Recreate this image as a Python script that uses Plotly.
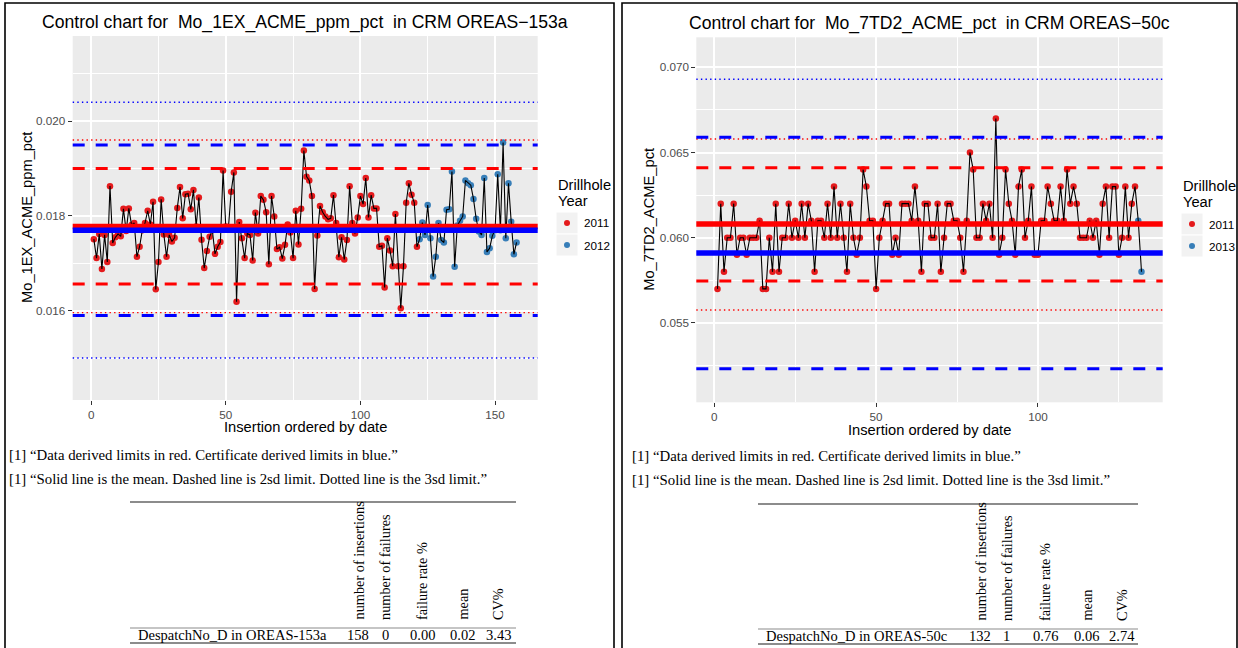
import plotly.graph_objects as go

W, H = 1238, 648

# ---------------- data ----------------
# Mo_1EX_ACME_ppm_pct assays of CRM OREAS-153a, in insertion order
left_mo = [
    0.01751, 0.01711, 0.01762, 0.01688, 0.01760, 0.01703, 0.01863, 0.01743, 0.01755, 0.01762,
    0.01757, 0.01815, 0.01768, 0.01816, 0.01781, 0.01785, 0.01714, 0.01735, 0.01770, 0.01785,
    0.01811, 0.01782, 0.01830, 0.01645, 0.01703, 0.01835, 0.01761, 0.01714, 0.01760, 0.01746,
    0.01754, 0.01817, 0.01861, 0.01795, 0.01846, 0.01847, 0.01814, 0.01855, 0.01778, 0.01839,
    0.01750, 0.01690, 0.01726, 0.01756, 0.01770, 0.01720, 0.01735, 0.01745, 0.01896, 0.01778,
    0.01776, 0.01851, 0.01892, 0.01619, 0.01787, 0.01753, 0.01711, 0.01763, 0.01760, 0.01706,
    0.01807, 0.01763, 0.01842, 0.01834, 0.01808, 0.01698, 0.01842, 0.01799, 0.01730, 0.01734,
    0.01710, 0.01739, 0.01782, 0.01765, 0.01711, 0.01811, 0.01740, 0.01815, 0.01938, 0.01883,
    0.01875, 0.01842, 0.01646, 0.01759, 0.01821, 0.01808, 0.01799, 0.01793, 0.01795, 0.01844,
    0.01785, 0.01713, 0.01755, 0.01708, 0.01749, 0.01863, 0.01785, 0.01763, 0.01797, 0.01842,
    0.01825, 0.01880, 0.01797, 0.01844, 0.01816, 0.01816, 0.01735, 0.01737, 0.01649, 0.01753,
    0.01727, 0.01694, 0.01804, 0.01694, 0.01605, 0.01694, 0.01828, 0.01869, 0.01845, 0.01828,
    0.01735, 0.01751, 0.01786, 0.01760, 0.01823, 0.01753, 0.01672, 0.01714, 0.01785, 0.01749,
    0.01744, 0.01813, 0.01814, 0.01894, 0.01693, 0.01780, 0.01790, 0.01799, 0.01875, 0.01869,
    0.01865, 0.01836, 0.01794, 0.01767, 0.01760, 0.01880, 0.01724, 0.01732, 0.01758, 0.01770,
    0.01888, 0.01770, 0.01955, 0.01753, 0.01869, 0.01788, 0.01719, 0.01744,
]
left_year_runs = [("2011", 121), ("2012", 37)]

# Mo_7TD2_ACME_pct assays of CRM OREAS-50c, in insertion order
right_mo = [
    0.057, 0.062, 0.058, 0.060, 0.060, 0.062, 0.059, 0.060, 0.060, 0.059,
    0.060, 0.060, 0.060, 0.061, 0.057, 0.057, 0.060, 0.058, 0.062, 0.058,
    0.060, 0.060, 0.062, 0.060, 0.061, 0.060, 0.062, 0.060, 0.062, 0.061,
    0.058, 0.061, 0.061, 0.060, 0.062, 0.060, 0.063, 0.060, 0.062, 0.060,
    0.058, 0.062, 0.060, 0.059, 0.060, 0.064, 0.063, 0.061, 0.061, 0.057,
    0.060, 0.061, 0.062, 0.062, 0.059, 0.060, 0.059, 0.062, 0.062, 0.062,
    0.061, 0.063, 0.061, 0.058, 0.062, 0.062, 0.060, 0.060, 0.062, 0.058,
    0.060, 0.062, 0.062, 0.061, 0.061, 0.060, 0.058, 0.061, 0.065, 0.064,
    0.060, 0.060, 0.062, 0.061, 0.062, 0.060, 0.067, 0.059, 0.060, 0.064,
    0.062, 0.061, 0.059, 0.063, 0.064, 0.060, 0.061, 0.063, 0.059, 0.059,
    0.061, 0.061, 0.063, 0.062, 0.061, 0.061, 0.063, 0.061, 0.064, 0.062,
    0.063, 0.062, 0.060, 0.060, 0.060, 0.061, 0.060, 0.061, 0.059, 0.062,
    0.063, 0.060, 0.063, 0.063, 0.059, 0.060, 0.063, 0.060, 0.062, 0.063,
    0.061, 0.058,
]
right_year_runs = [("2011", 130), ("2013", 2)]

# control limits: (mean, 2sd low, 2sd high, 3sd low, 3sd high)
left_data_limits = [0.01778, 0.016564, 0.01900, 0.015958, 0.019605]
left_cert_limits = [0.01770, 0.01590, 0.01950, 0.01500, 0.02040]
right_data_limits = [0.06080, 0.05746, 0.06410, 0.05576, 0.06579]
right_cert_limits = [0.05911, 0.05232, 0.06590, 0.04892, 0.06930]

left_title = "Control chart for \u00a0Mo_1EX_ACME_ppm_pct \u00a0in CRM OREAS\u2212153a"
right_title = "Control chart for \u00a0Mo_7TD2_ACME_pct \u00a0in CRM OREAS\u221250c"
left_ylabel = "Mo_1EX_ACME_ppm_pct"
right_ylabel = "Mo_7TD2_ACME_pct"
xlabel = "Insertion ordered by date"

left_yticks = [0.016, 0.018, 0.020]
right_yticks = [0.055, 0.060, 0.065, 0.070]
left_xticks = [0, 50, 100, 150]
right_xticks = [0, 50, 100]

note_lines = [
    "[1] \u201cData derived limits in red. Certificate derived limits in blue.\u201d",
    "[1] \u201cSolid line is the mean. Dashed line is 2sd limit. Dotted line is the 3sd limit.\u201d",
]
table_headers = ["number of insertions", "number of failures", "failure rate %", "mean", "CV%"]
left_row_label = "DespatchNo_D in OREAS-153a"
left_row = ["158", "0", "0.00", "0.02", "3.43"]
right_row_label = "DespatchNo_D in OREAS-50c"
right_row = ["132", "1", "0.76", "0.06", "2.74"]

YEAR_COLORS = {"2011": "#E41A1C", "2012": "#377EB8", "2013": "#377EB8"}

SANS = "Liberation Sans"
SERIF = "Liberation Serif"


def fx(px):
    return px / W


def fy(py):
    return 1 - py / H


def expand_years(runs):
    out = []
    for yr, n in runs:
        out.extend([yr] * n)
    return out


fig = go.Figure()
shapes = []
annotations = []


def add_chart(values, year_runs, data_lim, cert_lim, xa, ya):
    xs = list(range(1, len(values) + 1))
    years = expand_years(year_runs)
    for yr, _ in year_runs:
        sx = [x for x, y in zip(xs, years) if y == yr]
        sy = [v for v, y in zip(values, years) if y == yr]
        fig.add_trace(go.Scatter(
            x=sx, y=sy, mode="markers", xaxis=xa, yaxis=ya,
            marker=dict(color=YEAR_COLORS[yr], size=6.5, line=dict(width=0)),
            showlegend=False, hoverinfo="skip"))
    fig.add_trace(go.Scatter(
        x=xs, y=values, mode="lines", xaxis=xa, yaxis=ya,
        line=dict(color="black", width=1.1),
        showlegend=False, hoverinfo="skip"))
    xref = xa + " domain"
    yref = ya
    for lim, col in ((data_lim, "#FF0000"), (cert_lim, "#0000FF")):
        styles = [
            (lim[0], dict(color=col, width=5.5)),
            (lim[1], dict(color=col, width=3, dash="12px,11px")),
            (lim[2], dict(color=col, width=3, dash="12px,11px")),
            (lim[3], dict(color=col, width=1.4, dash="1.4px,3.2px")),
            (lim[4], dict(color=col, width=1.4, dash="1.4px,3.2px")),
        ]
        for yv, ln in styles:
            shapes.append(dict(type="line", xref=xref, yref=yref, x0=0, x1=1,
                               y0=yv, y1=yv, line=ln, layer="above"))


add_chart(left_mo, left_year_runs, left_data_limits, left_cert_limits, "x", "y")
add_chart(right_mo, right_year_runs, right_data_limits, right_cert_limits, "x2", "y2")


def xaxis_cfg(dom, rng, ticks, anchor):
    return dict(domain=[fx(dom[0]), fx(dom[1])], range=rng, anchor=anchor,
                tickmode="array", tickvals=ticks, ticktext=[str(t) for t in ticks],
                ticks="outside", ticklen=4, tickwidth=1.4, tickcolor="#333333",
                tickfont=dict(family=SANS, size=11.7, color="#4D4D4D"),
                showgrid=True, gridcolor="white", gridwidth=1.7,
                minor=dict(tickvals=[25, 75, 125], showgrid=True,
                           gridcolor="white", gridwidth=0.8, ticks=""),
                zeroline=False, showline=False, fixedrange=True)


def yaxis_cfg(dom, rng, ticks, minor, anchor):
    return dict(domain=[fy(dom[1]), fy(dom[0])], range=rng, anchor=anchor,
                tickmode="array", tickvals=ticks, ticktext=[f"{t:.3f}" for t in ticks],
                ticks="outside", ticklen=4, tickwidth=1.4, tickcolor="#333333",
                tickfont=dict(family=SANS, size=11.7, color="#4D4D4D"),
                showgrid=True, gridcolor="white", gridwidth=1.7,
                minor=dict(tickvals=minor, showgrid=True,
                           gridcolor="white", gridwidth=0.8, ticks=""),
                zeroline=False, showline=False, fixedrange=True)


left_panel = (72.7, 537.7, 36, 400)
right_panel = (696.3, 1162.7, 37.3, 402.3)


def text(x, y, s, size, family=SANS, color="black", xanchor="center",
         yanchor="middle", angle=0):
    annotations.append(dict(x=fx(x), y=fy(y), xref="paper", yref="paper", text=s,
                            showarrow=False, xanchor=xanchor, yanchor=yanchor,
                            textangle=angle, font=dict(family=family, size=size, color=color)))


def chart_decor(panel, title, ylabel, title_y, xlab_y, ylab_x, leg_x, leg_top, years):
    cx = (panel[0] + panel[1]) / 2
    cy = (panel[2] + panel[3]) / 2
    text(cx, title_y, title, 17.6)
    text(cx, xlab_y, xlabel, 14.7)
    text(ylab_x, cy, ylabel, 14.7, angle=-90)
    # legend
    text(leg_x, leg_top, "Drillhole", 14.7, xanchor="left")
    text(leg_x, leg_top + 16, "Year", 14.7, xanchor="left")
    key = 22
    ky = leg_top + 27
    for i, yr in enumerate(years):
        y0 = ky + i * key
        shapes.append(dict(type="rect", xref="paper", yref="paper",
                           x0=fx(leg_x), x1=fx(leg_x + key), y0=fy(y0 + key), y1=fy(y0),
                           fillcolor="#F2F2F2", line=dict(color="white", width=1)))
        cxk, cyk = leg_x + key / 2, y0 + key / 2
        shapes.append(dict(type="circle", xref="paper", yref="paper",
                           x0=fx(cxk - 3), x1=fx(cxk + 3), y0=fy(cyk + 3), y1=fy(cyk - 3),
                           fillcolor=YEAR_COLORS[yr], line=dict(width=0)))
        text(leg_x + key + 4, cyk, yr, 11.7, xanchor="left")


chart_decor(left_panel, left_title, left_ylabel, 22.5, 427, 27, 556, 185,
            [yr for yr, _ in left_year_runs])
chart_decor(right_panel, right_title, right_ylabel, 24, 430, 649, 1181, 186,
            [yr for yr, _ in right_year_runs])


def report(x_text, line_ys, tbl_x0, tbl_x1, rules, row_y, label_x, cols, label, row):
    for s, y in zip(note_lines, line_ys):
        text(x_text, y, s, 14.8, family=SERIF, xanchor="left")
    for y, w in rules:
        shapes.append(dict(type="line", xref="paper", yref="paper",
                           x0=fx(tbl_x0), x1=fx(tbl_x1), y0=fy(y), y1=fy(y),
                           line=dict(color="#8C8C8C", width=w)))
    header_bottom = rules[1][0] - 6
    for c, h, v in zip(cols, table_headers, row):
        text(c, header_bottom, h, 14.3, family=SERIF, yanchor="bottom", angle=-90)
        text(c, row_y, v, 14.5, family=SERIF)
    text(label_x, row_y, label, 14.5, family=SERIF, xanchor="left")


report(7, [455, 479], 130, 516, [(502, 1.8), (628, 1.2), (643, 1.8)], 635, 136,
       [358, 385, 422, 462, 498], left_row_label, left_row)
report(630, [456, 480], 758, 1138, [(504, 1.8), (629, 1.2), (644, 1.8)], 636, 764,
       [980, 1007, 1045, 1086, 1122], right_row_label, right_row)

# page frames
for x0, x1 in ((5, 614), (622, 1237)):
    shapes.append(dict(type="rect", xref="paper", yref="paper",
                       x0=fx(x0), x1=fx(x1), y0=fy(H + 20), y1=fy(3),
                       line=dict(color="black", width=1.6), fillcolor="rgba(0,0,0,0)"))

fig.update_layout(
    width=W, height=H, margin=dict(l=0, r=0, t=0, b=0),
    paper_bgcolor="white", plot_bgcolor="#EBEBEB",
    showlegend=False,
    xaxis=xaxis_cfg(left_panel[:2], [-6.85, 165.85], left_xticks, "y"),
    yaxis=yaxis_cfg(left_panel[2:], [0.014114, 0.0218], left_yticks,
                    [0.015, 0.017, 0.019, 0.021], "x"),
    xaxis2=xaxis_cfg(right_panel[:2], [-5.55, 138.55], right_xticks, "y2"),
    yaxis2=yaxis_cfg(right_panel[2:], [0.050346, 0.07176], right_yticks,
                     [0.0525, 0.0575, 0.0625, 0.0675], "x2"),
    shapes=shapes, annotations=annotations,
)

fig.write_html("out.html")
